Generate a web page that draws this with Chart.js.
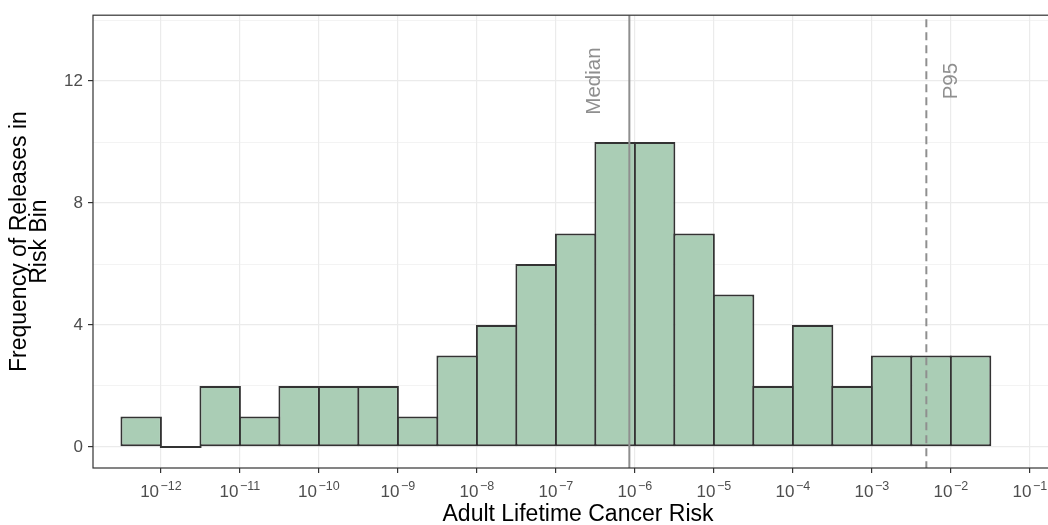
<!DOCTYPE html>
<html>
<head>
<meta charset="utf-8">
<script src="https://cdn.jsdelivr.net/npm/chart.js@4.4.1/dist/chart.umd.min.js"></script>
<style>
  html, body { margin: 0; padding: 0; background: #ffffff; overflow: hidden; }
  #wrap { width: 1075px; height: 525px; }
</style>
</head>
<body>
<div id="wrap"><canvas id="c" width="1075" height="525"></canvas></div>
<script>
// ---- data (log10 of adult lifetime cancer risk, histogram bins of 0.5 decade) ----
const binCenters = [-12.25, -11.75, -11.25, -10.75, -10.25, -9.75, -9.25, -8.75, -8.25, -7.75, -7.25,
                    -6.75, -6.25, -5.75, -5.25, -4.75, -4.25, -3.75, -3.25, -2.75, -2.25, -1.75];
const binCounts  = [1, 0, 2, 1, 2, 2, 2, 1, 3, 4, 6, 7, 10, 10, 7, 5, 2, 4, 2, 3, 3, 3];
const xTickExponents = [-12, -11, -10, -9, -8, -7, -6, -5, -4, -3, -2, -1];
const yTickValues = [0, 2, 4, 6, 8, 10, 12, 14];
const yLabelValues = [0, 4, 8, 12];
const medianLog = -6.07;
const p95Log = -2.31;
const refLabels = [
  { text: 'Median', x: -6.53, y: 12 },
  { text: 'P95',    x: -2.0,  y: 12 }
];

const FONT = '"Liberation Sans", Arial, Helvetica, sans-serif';
const GRID = '#ebebeb';
const DARK = '#333333';
const REFCOL = '#8f8f8f';

const decorPlugin = {
  id: 'decor',
  afterDatasetsDraw(chart) {
    const ctx = chart.ctx;
    const xs = chart.scales.x, ys = chart.scales.y;
    const area = chart.chartArea;
    // zero-height bins drawn as outline at baseline
    const meta = chart.getDatasetMeta(0);
    ctx.save();
    ctx.strokeStyle = DARK;
    ctx.lineWidth = 2;
    meta.data.forEach((el, i) => {
      if (binCounts[i] === 0) {
        const w = el.width;
        ctx.beginPath();
        ctx.moveTo(el.x - w / 2, el.base);
        ctx.lineTo(el.x + w / 2, el.base);
        ctx.stroke();
      }
    });
    ctx.restore();

    // reference lines
    ctx.save();
    ctx.beginPath();
    ctx.rect(area.left, area.top, area.right - area.left, area.bottom - area.top);
    ctx.clip();
    ctx.strokeStyle = REFCOL;
    ctx.lineWidth = 2;
    let px = xs.getPixelForValue(medianLog);
    ctx.beginPath(); ctx.moveTo(px, area.top); ctx.lineTo(px, area.bottom); ctx.stroke();
    px = xs.getPixelForValue(p95Log);
    ctx.setLineDash([8, 5]);
    ctx.lineDashOffset = -4;
    ctx.beginPath(); ctx.moveTo(px, area.top); ctx.lineTo(px, area.bottom); ctx.stroke();
    ctx.setLineDash([]);
    ctx.restore();

    // rotated labels
    ctx.save();
    ctx.fillStyle = REFCOL;
    ctx.font = '20.5px ' + FONT;
    ctx.textAlign = 'center';
    ctx.textBaseline = 'middle';
    refLabels.forEach(l => {
      const lx = xs.getPixelForValue(l.x), ly = ys.getPixelForValue(l.y);
      ctx.save();
      ctx.translate(lx, ly);
      ctx.rotate(-Math.PI / 2);
      ctx.fillText(l.text, 0, 1);
      ctx.restore();
    });
    ctx.restore();
  },
  afterDraw(chart) {
    const ctx = chart.ctx;
    const area = chart.chartArea;
    const xs = chart.scales.x;
    // panel border
    ctx.save();
    ctx.strokeStyle = DARK;
    ctx.lineWidth = 1.2;
    ctx.strokeRect(area.left, area.top, area.right - area.left, area.bottom - area.top);
    ctx.restore();
    // x tick labels as 10^n
    ctx.save();
    ctx.fillStyle = '#4d4d4d';
    ctx.textBaseline = 'alphabetic';
    ctx.textAlign = 'left';
    const baseY = area.bottom + 29;
    xs.ticks.forEach(t => {
      const e = Math.round(t.value);
      const base = '10', sup = '\u2212' + Math.abs(e);
      ctx.font = '17px ' + FONT;
      const wb = ctx.measureText(base).width;
      ctx.font = '12.5px ' + FONT;
      const ws = ctx.measureText(sup).width;
      const gap = 1.5;
      const cx = xs.getPixelForValue(t.value);
      const x0 = cx - (wb + gap + ws) / 2;
      ctx.font = '17px ' + FONT;
      ctx.fillText(base, x0, baseY);
      ctx.font = '12.5px ' + FONT;
      ctx.fillText(sup, x0 + wb + gap, baseY - 7);
    });
    ctx.restore();
  }
};

new Chart(document.getElementById('c'), {
  type: 'bar',
  data: {
    datasets: [{
      data: binCenters.map((x, i) => ({ x: x, y: binCounts[i] })),
      backgroundColor: '#aacdb5',
      borderColor: DARK,
      borderWidth: 2,
      borderSkipped: false,
      barPercentage: 1.05,
      categoryPercentage: 1.0
    }]
  },
  options: {
    responsive: false,
    animation: false,
    devicePixelRatio: 1,
    layout: { padding: { top: 13, right: 12, left: 0, bottom: 0 } },
    plugins: { legend: { display: false }, tooltip: { enabled: false } },
    scales: {
      x: {
        type: 'linear',
        offset: false,
        min: -12.86,
        max: -0.58,
        afterBuildTicks(scale) { scale.ticks = xTickExponents.map(v => ({ value: v })); },
        afterFit(scale) { scale.height = 57; },
        ticks: { callback: () => '', font: { size: 17, family: FONT } },
        grid: { offset: false, color: GRID, lineWidth: 1.2, tickLength: 5, tickColor: DARK, tickWidth: 1.2 },
        border: { display: false },
        title: {
          display: true,
          text: 'Adult Lifetime Cancer Risk',
          color: '#000000',
          font: { size: 23, family: FONT, lineHeight: 0.9 },
          padding: { top: 0, bottom: 0 }
        }
      },
      y: {
        type: 'linear',
        min: -0.69,
        max: 14.16,
        afterBuildTicks(scale) { scale.ticks = yTickValues.map(v => ({ value: v })); },
        afterFit(scale) { scale.width = 93; },
        ticks: {
          color: '#4d4d4d',
          padding: 5,
          font: { size: 17, family: FONT },
          callback: (v) => (yLabelValues.includes(v) ? String(v) : '')
        },
        grid: {
          color: GRID,
          lineWidth: (c) => (c.tick && yLabelValues.includes(c.tick.value) ? 1.2 : 0.6),
          tickLength: 5,
          tickColor: (c) => (c.tick && yLabelValues.includes(c.tick.value) ? DARK : 'rgba(0,0,0,0)'),
          tickWidth: 1.2
        },
        border: { display: false },
        title: {
          display: true,
          text: ['Frequency of Releases in', 'Risk Bin'],
          color: '#000000',
          font: { size: 23, family: FONT, lineHeight: 0.9 },
          padding: { top: 9, bottom: 0 }
        }
      }
    }
  },
  plugins: [decorPlugin]
});
</script>
</body>
</html>
